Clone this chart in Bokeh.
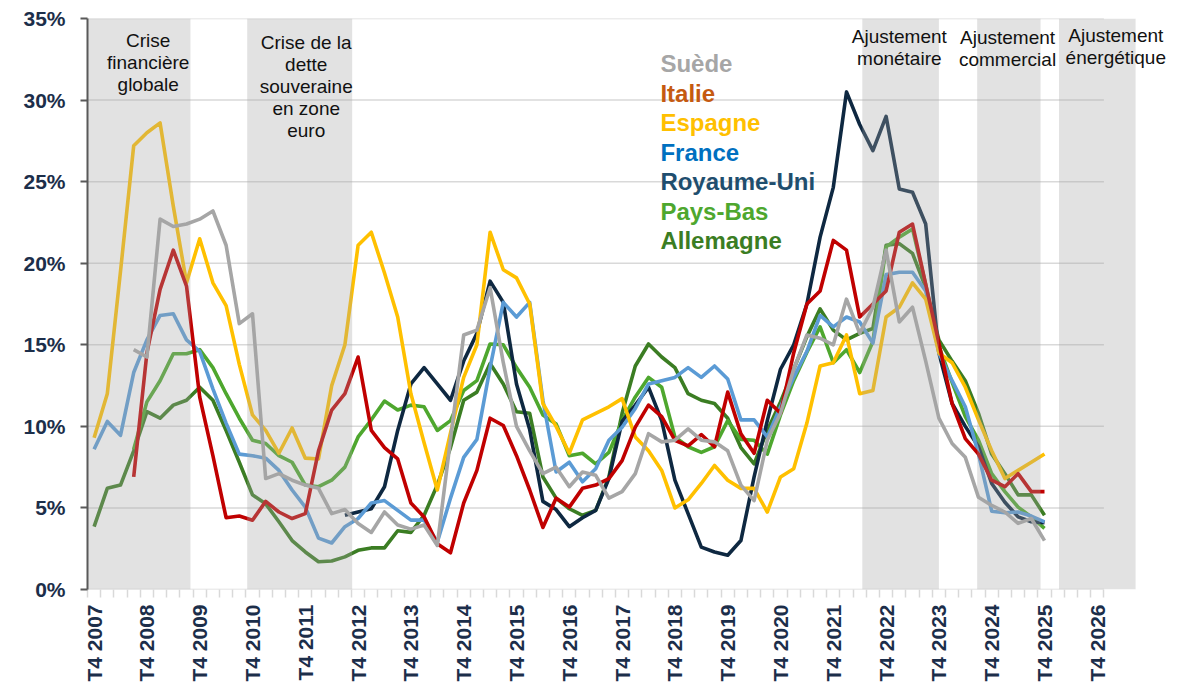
import numpy as np
from bokeh.plotting import figure
from bokeh.models import Range1d, FixedTicker, Label
from bokeh.embed import file_html
from bokeh.resources import INLINE

# ---------------- data ----------------
tick_labels = ["T4 2007", "T4 2008", "T4 2009", "T4 2010", "T4 2011", "T4 2012",
               "T4 2013", "T4 2014", "T4 2015", "T4 2016", "T4 2017", "T4 2018",
               "T4 2019", "T4 2020", "T4 2021", "T4 2022", "T4 2023", "T4 2024",
               "T4 2025", "T4 2026"]
quarters_per_label = 4
n_quarters = 77  # T4 2007 .. T4 2026

espagne = [9.3, 12.0, 19.5, 27.2, 28.0, 28.6, 23.5, 18.8, 21.5, 18.8,
           17.4, 13.8, 10.7, 9.75, 8.35, 9.9, 8.05, 8.0, 12.5, 15.0,
           21.1, 21.9, 19.4, 16.7, 12.0, 9.0, 6.1, 9.6, 13.0, 15.0,
           21.9, 19.6, 19.1, 17.5, 11.4, 10.0, 8.35, 10.4, 10.8, 11.2,
           11.7, 9.35, 8.5, 7.3, 5.0, 5.5, 6.5, 7.6, 6.7, 6.2,
           6.2, 4.75, 6.9, 7.4, 10.2, 13.7, 13.9, 15.6, 12.0, 12.2,
           16.7, 17.3, 18.8, 17.8, 14.5, 13.9, 12.4, 10.4, 8.5, 6.8,
           7.3, 7.8, 8.3]

italie = [None, None, None, 6.9, 14.5, 18.4, 20.8, 18.6, 11.8, 8.2,
          4.4, 4.5, 4.25, 5.4, 4.75, 4.35, 4.65, 8.5, 11.0, 12.0,
          14.25, 9.75, 8.7, 8.0, 5.3, 4.45, 2.8, 2.25, 5.3, 7.3,
          10.5, 10.05, 8.2, 6.1, 3.8, 5.6, 5.05, 6.2, 6.4, 6.8,
          7.9, 9.95, 11.3, 10.6, 9.15, 8.8, 9.5, 8.75, 12.1, 9.55,
          8.35, 11.6, 10.8, 14.5, 17.5, 18.3, 21.4, 20.8, 16.7, 17.5,
          18.3, 21.9, 22.4, 18.7, 15.1, 11.4, 9.25, 8.3, 6.7, 6.3,
          7.1, 6.0, 6.0]

france = [8.6, 10.3, 9.45, 13.3, 15.3, 16.8, 16.9, 15.3, 14.6, 12.3,
          10.2, 8.3, 8.2, 8.05, 7.3, 6.1, 5.05, 3.15, 2.85, 3.85,
          4.35, 5.3, 5.45, 4.85, 4.25, 4.25, 2.9, 5.6, 8.1, 9.2,
          13.6, 17.6, 16.7, 17.6, 11.6, 7.2, 7.8, 6.6, 7.4, 9.15,
          9.95, 11.1, 12.6, 12.8, 13.0, 13.6, 13.0, 13.7, 12.9, 10.4,
          10.4, 9.35, 11.2, 13.0, 14.6, 16.8, 16.1, 16.7, 16.4, 15.1,
          19.3, 19.45, 19.45, 18.3, 14.5, 12.8, 11.2, 8.3, 4.8, 4.7,
          4.75, 4.5, 4.15]

royaume_uni = [None] * 19 + [
          4.55, 4.75, 4.95, 6.3, 9.75, 12.6, 13.6, 12.6, 11.6, 14.0,
          15.7, 18.9, 17.6, 12.6, 9.8, 5.4, 4.9, 3.85, 4.4, 4.85,
          6.8, 10.3, 11.3, 12.4, 10.35, 6.7, 4.65, 2.6, 2.3, 2.1,
          3.0, 6.9, 10.35, 13.5, 15.0, 17.5, 21.6, 24.65, 30.5, 28.5,
          26.9, 29.0, 24.55, 24.35, 22.4, 14.5, 11.4, 10.0, 8.75, 6.5,
          5.35, 4.45, 4.15, 4.1]

pays_bas = [None, None, None, 8.6, 11.5, 12.8, 14.45, 14.45, 14.7, 13.6,
            12.0, 10.5, 9.15, 8.95, 8.2, 7.8, 6.4, 6.3, 6.7, 7.5,
            9.35, 10.4, 11.55, 11.0, 11.3, 11.2, 9.75, 10.35, 12.2, 12.8,
            15.05, 15.0, 13.6, 12.4, 10.7, 10.15, 8.2, 8.35, 7.7, 8.4,
            10.35, 11.8, 13.0, 12.4, 9.35, 8.75, 8.4, 8.75, 10.35, 9.2,
            9.15, 8.3, 10.7, 12.8, 14.55, 16.1, 13.9, 14.7, 13.3, 15.2,
            21.0, 21.6, 22.1, 18.7, 14.9, 12.7, 10.6, 9.15, 7.1, 6.0,
            5.05, 4.45, 3.75]

allemagne = [3.85, 6.2, 6.4, 8.5, 10.9, 10.5, 11.3, 11.6, 12.4, 11.6,
             9.75, 7.8, 5.8, 5.25, 4.15, 3.0, 2.3, 1.7, 1.75, 2.0,
             2.4, 2.55, 2.55, 3.6, 3.5, 4.55, 6.4, 8.7, 11.6, 12.1,
             13.85, 12.6, 10.9, 10.8, 6.9, 5.6, 4.95, 4.55, 4.85, 6.9,
             10.8, 13.7, 15.05, 14.25, 13.6, 12.0, 11.6, 11.4, 10.5, 8.7,
             7.7, 9.75, 11.5, 13.5, 15.5, 17.2, 15.9, 15.3, 15.7, 16.0,
             21.1, 21.2, 20.6, 18.5, 15.3, 14.0, 12.8, 10.8, 8.3, 7.1,
             5.8, 5.8, 4.55]

suede = [None, None, None, 14.7, 14.25, 22.7, 22.25, 22.4, 22.7, 23.2,
         21.1, 16.3, 16.9, 6.8, 7.1, 6.7, 6.4, 6.2, 4.65, 4.9,
         4.05, 3.5, 4.75, 3.95, 3.7, 3.95, 2.7, 9.2, 15.6, 15.9,
         18.5, 13.9, 10.0, 8.5, 7.1, 7.5, 6.3, 7.2, 7.0, 5.6,
         6.0, 7.1, 9.55, 9.05, 9.15, 9.85, 9.15, 9.05, 8.5, 6.4,
         5.45, 9.15, 10.8, 13.5, 15.6, 15.4, 15.0, 17.8, 15.7, 17.3,
         20.8, 16.4, 17.3, 14.0, 10.5, 8.95, 8.1, 5.65, 5.15, 4.75,
         4.05, 4.35, 3.0]

series_names = ["Suède", "Italie", "Espagne", "France", "Royaume-Uni", "Pays-Bas", "Allemagne"]
series_values = [suede, italie, espagne, france, royaume_uni, pays_bas, allemagne]

# shaded periods (in quarter index units from T4 2007)
band_start = [-0.5, 11.6, 58.2, 66.9, 73.1]
band_end = [7.3, 19.55, 64.0, 71.7, 78.9]
band_text = [["Crise", "financière", "globale"],
             ["Crise de la", "dette", "souveraine", "en zone", "euro"],
             ["Ajustement", "monétaire"],
             ["Ajustement", "commercial"],
             ["Ajustement", "énergétique"]]

y_ticks = [0, 5, 10, 15, 20, 25, 30, 35]

# ---------------- styles ----------------
line_colors = {"Suède": "#a6a6a6", "Italie": "#c00000", "Espagne": "#ffc000",
               "France": "#5b9bd5", "Royaume-Uni": "#0e2841", "Pays-Bas": "#4ea72e",
               "Allemagne": "#3b7d23"}
legend_colors = {"Suède": "#a6a6a6", "Italie": "#c55a11", "Espagne": "#ffc000",
                 "France": "#0070c0", "Royaume-Uni": "#1f4e6e", "Pays-Bas": "#4ea72e",
                 "Allemagne": "#3b7d23"}
draw_order = ["Allemagne", "Pays-Bas", "Royaume-Uni", "France", "Espagne", "Italie", "Suède"]
FONT = "Liberation Sans"
AXIS_COLOR = "#1c2e4a"

p = figure(frame_width=1089, frame_height=571, output_backend="svg", toolbar_location=None,
           x_range=Range1d(-0.5, 82.0), y_range=Range1d(0, 35),
           min_border_left=87, min_border_right=8, min_border_top=18, min_border_bottom=94)
p.outline_line_color = None
p.xgrid.visible = False
p.ygrid.visible = False
p.background_fill_color = "white"
p.border_fill_color = "white"

n_cat = n_quarters
grid_x0 = -0.5
grid_x1 = n_cat - 0.5
p.segment(x0=[grid_x0] * len(y_ticks), x1=[grid_x1] * len(y_ticks), y0=y_ticks, y1=y_ticks,
          line_color="#d9d9d9", line_width=1.5)

name_to_vals = dict(zip(series_names, series_values))
for name in draw_order:
    vals = np.array([np.nan if v is None else v for v in name_to_vals[name]], dtype=float)
    xs = np.arange(len(vals))
    p.line(xs, vals, line_color=line_colors[name], line_width=3.6, line_join="round")

# shaded bands on top (semi-transparent)
p.quad(left=band_start, right=band_end, bottom=0, top=35,
       fill_color="#a6a6a6", fill_alpha=0.32, line_color=None)

# band captions
band_text_x = [4.1, 16.07, 61.0, 69.2, 77.4]
band_text_top = [33.64, 33.53, 33.88, 33.82, 33.94]
line_step = 1.347
for bx, by, lines in zip(band_text_x, band_text_top, band_text):
    for k, t in enumerate(lines):
        p.add_layout(Label(x=bx, y=by - k * line_step, text=t, text_align="center",
                           text_baseline="middle", text_font=FONT, text_font_size="19px",
                           text_color="#111111"))

# legend texts
legend_x = 42.9
legend_top = 32.23
legend_step = 1.806
for k, name in enumerate(series_names):
    p.add_layout(Label(x=legend_x, y=legend_top - k * legend_step, text=name, text_align="left",
                       text_baseline="middle", text_font=FONT, text_font_size="24px",
                       text_font_style="bold", text_color=legend_colors[name]))

# x axis
major = [k * quarters_per_label for k in range(len(tick_labels))]
minor = [i - 0.5 for i in range(n_cat + 1)]
p.xaxis.ticker = FixedTicker(ticks=major, minor_ticks=minor)
p.xaxis.major_label_overrides = {m: lab for m, lab in zip(major, tick_labels)}
p.xaxis.major_label_orientation = np.pi / 2
p.xaxis.axis_line_color = None
p.xaxis.major_tick_line_color = None
p.xaxis.major_tick_out = 0
p.xaxis.major_tick_in = 0
p.xaxis.minor_tick_line_color = "#d9d9d9"
p.xaxis.minor_tick_line_width = 1.5
p.xaxis.minor_tick_in = 0
p.xaxis.minor_tick_out = 8
p.xaxis.major_label_standoff = 7
p.xaxis.major_label_text_font = FONT
p.xaxis.major_label_text_font_style = "bold"
p.xaxis.major_label_text_font_size = "21px"
p.xaxis.major_label_text_color = AXIS_COLOR

# y axis
p.yaxis.ticker = FixedTicker(ticks=y_ticks)
p.yaxis.major_label_overrides = {t: f"{t}%" for t in y_ticks}
p.yaxis.axis_line_color = "#595959"
p.yaxis.axis_line_width = 2
p.yaxis.major_tick_line_color = "#595959"
p.yaxis.major_tick_line_width = 2
p.yaxis.major_tick_out = 7
p.yaxis.major_tick_in = 0
p.yaxis.minor_tick_line_color = None
p.yaxis.major_label_standoff = 15
p.yaxis.major_label_text_font = FONT
p.yaxis.major_label_text_font_style = "bold"
p.yaxis.major_label_text_font_size = "21px"
p.yaxis.major_label_text_color = AXIS_COLOR

open("out.html", "w").write(file_html(p, INLINE))
